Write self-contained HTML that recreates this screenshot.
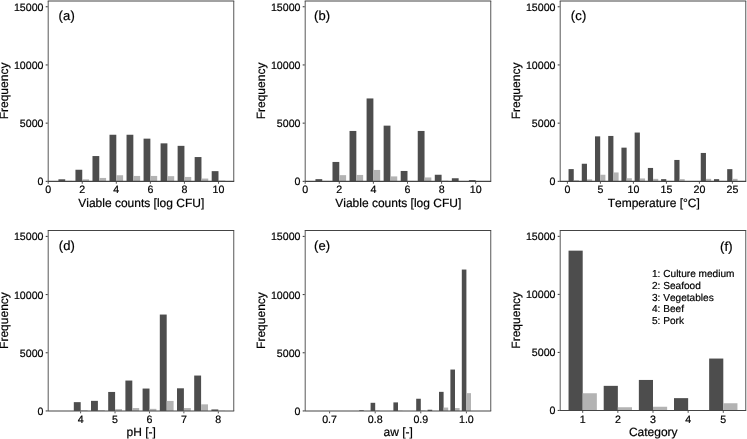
<!DOCTYPE html>
<html><head><meta charset="utf-8"><title>Histograms</title>
<style>
html,body{margin:0;padding:0;background:#fff;}
body{width:747px;height:439px;overflow:hidden;}
svg{display:block;will-change:transform;}
svg text{font-family:"Liberation Sans",sans-serif;fill:#000;stroke:#000;stroke-width:0.2px;text-rendering:geometricPrecision;font-kerning:none;}
</style></head><body>
<svg width="747" height="439" viewBox="0 0 747 439">
<rect x="0" y="0" width="747" height="439" fill="#fff"/>
<rect x="58.42" y="179.30" width="6.80" height="2.05" fill="#4d4d4d"/>
<rect x="65.22" y="180.85" width="6.80" height="0.50" fill="#b3b3b3"/>
<rect x="75.45" y="169.75" width="6.80" height="11.60" fill="#4d4d4d"/>
<rect x="82.25" y="179.35" width="6.80" height="2.00" fill="#b3b3b3"/>
<rect x="92.48" y="156.05" width="6.80" height="25.30" fill="#4d4d4d"/>
<rect x="99.28" y="177.95" width="6.80" height="3.40" fill="#b3b3b3"/>
<rect x="109.51" y="134.75" width="6.80" height="46.60" fill="#4d4d4d"/>
<rect x="116.31" y="175.25" width="6.80" height="6.10" fill="#b3b3b3"/>
<rect x="126.54" y="134.75" width="6.80" height="46.60" fill="#4d4d4d"/>
<rect x="133.34" y="175.95" width="6.80" height="5.40" fill="#b3b3b3"/>
<rect x="143.57" y="138.65" width="6.80" height="42.70" fill="#4d4d4d"/>
<rect x="150.37" y="175.95" width="6.80" height="5.40" fill="#b3b3b3"/>
<rect x="160.60" y="143.35" width="6.80" height="38.00" fill="#4d4d4d"/>
<rect x="167.40" y="176.15" width="6.80" height="5.20" fill="#b3b3b3"/>
<rect x="177.63" y="145.85" width="6.80" height="35.50" fill="#4d4d4d"/>
<rect x="184.43" y="176.95" width="6.80" height="4.40" fill="#b3b3b3"/>
<rect x="194.66" y="157.05" width="6.80" height="24.30" fill="#4d4d4d"/>
<rect x="201.46" y="178.55" width="6.80" height="2.80" fill="#b3b3b3"/>
<rect x="211.69" y="171.15" width="6.80" height="10.20" fill="#4d4d4d"/>
<rect x="218.49" y="180.55" width="6.80" height="0.80" fill="#b3b3b3"/>
<line x1="47.74" y1="1.00" x2="234.20" y2="1.00" stroke="#444" stroke-width="1.1"/>
<line x1="47.74" y1="181.35" x2="234.20" y2="181.35" stroke="#444" stroke-width="1.1"/>
<line x1="48.19" y1="1.00" x2="48.19" y2="181.35" stroke="#444" stroke-width="0.9"/>
<line x1="233.75" y1="1.00" x2="233.75" y2="181.35" stroke="#444" stroke-width="0.9"/>
<line x1="45.69" y1="6.75" x2="47.69" y2="6.75" stroke="#333" stroke-width="1.0"/>
<text x="43.49" y="10.90" font-size="10.65" text-anchor="end" >15000</text>
<line x1="45.69" y1="64.95" x2="47.69" y2="64.95" stroke="#333" stroke-width="1.0"/>
<text x="43.49" y="68.65" font-size="10.65" text-anchor="end" >10000</text>
<line x1="45.69" y1="123.15" x2="47.69" y2="123.15" stroke="#333" stroke-width="1.0"/>
<text x="43.49" y="126.85" font-size="10.65" text-anchor="end" >5000</text>
<line x1="45.69" y1="181.35" x2="47.69" y2="181.35" stroke="#333" stroke-width="1.0"/>
<text x="43.49" y="185.05" font-size="10.65" text-anchor="end" >0</text>
<line x1="48.19" y1="181.85" x2="48.19" y2="183.75" stroke="#444" stroke-width="0.9"/>
<text x="48.19" y="193.00" font-size="10.65" text-anchor="middle" >0</text>
<line x1="82.25" y1="181.85" x2="82.25" y2="183.75" stroke="#444" stroke-width="0.9"/>
<text x="82.25" y="193.00" font-size="10.65" text-anchor="middle" >2</text>
<line x1="116.31" y1="181.85" x2="116.31" y2="183.75" stroke="#444" stroke-width="0.9"/>
<text x="116.31" y="193.00" font-size="10.65" text-anchor="middle" >4</text>
<line x1="150.37" y1="181.85" x2="150.37" y2="183.75" stroke="#444" stroke-width="0.9"/>
<text x="150.37" y="193.00" font-size="10.65" text-anchor="middle" >6</text>
<line x1="184.43" y1="181.85" x2="184.43" y2="183.75" stroke="#444" stroke-width="0.9"/>
<text x="184.43" y="193.00" font-size="10.65" text-anchor="middle" >8</text>
<line x1="218.49" y1="181.85" x2="218.49" y2="183.75" stroke="#444" stroke-width="0.9"/>
<text x="218.49" y="193.00" font-size="10.65" text-anchor="middle" >10</text>
<text x="141.27" y="206.85" font-size="12.0" text-anchor="middle" >Viable counts [log CFU]</text>
<text transform="translate(8.19,90.97) rotate(-90)" font-size="12.0" text-anchor="middle">Frequency</text>
<text x="58.60" y="20.15" font-size="13.0" text-anchor="start" letter-spacing="0.15">(a)</text>
<rect x="315.44" y="179.15" width="6.80" height="2.20" fill="#4d4d4d"/>
<rect x="322.24" y="180.95" width="6.80" height="0.40" fill="#b3b3b3"/>
<rect x="332.49" y="161.95" width="6.80" height="19.40" fill="#4d4d4d"/>
<rect x="339.29" y="175.15" width="6.80" height="6.20" fill="#b3b3b3"/>
<rect x="349.54" y="130.95" width="6.80" height="50.40" fill="#4d4d4d"/>
<rect x="356.34" y="174.95" width="6.80" height="6.40" fill="#b3b3b3"/>
<rect x="366.59" y="98.45" width="6.80" height="82.90" fill="#4d4d4d"/>
<rect x="373.39" y="169.95" width="6.80" height="11.40" fill="#b3b3b3"/>
<rect x="383.64" y="125.65" width="6.80" height="55.70" fill="#4d4d4d"/>
<rect x="390.44" y="176.40" width="6.80" height="4.95" fill="#b3b3b3"/>
<rect x="400.69" y="170.95" width="6.80" height="10.40" fill="#4d4d4d"/>
<rect x="407.49" y="180.95" width="6.80" height="0.40" fill="#b3b3b3"/>
<rect x="417.74" y="130.95" width="6.80" height="50.40" fill="#4d4d4d"/>
<rect x="424.54" y="177.45" width="6.80" height="3.90" fill="#b3b3b3"/>
<rect x="434.79" y="174.75" width="6.80" height="6.60" fill="#4d4d4d"/>
<rect x="441.59" y="180.65" width="6.80" height="0.70" fill="#b3b3b3"/>
<rect x="451.84" y="178.25" width="6.80" height="3.10" fill="#4d4d4d"/>
<rect x="458.64" y="180.95" width="6.80" height="0.40" fill="#b3b3b3"/>
<rect x="468.89" y="180.15" width="6.80" height="1.20" fill="#4d4d4d"/>
<rect x="475.69" y="181.05" width="6.80" height="0.30" fill="#b3b3b3"/>
<line x1="304.74" y1="1.00" x2="491.20" y2="1.00" stroke="#444" stroke-width="1.1"/>
<line x1="304.74" y1="181.35" x2="491.20" y2="181.35" stroke="#444" stroke-width="1.1"/>
<line x1="305.19" y1="1.00" x2="305.19" y2="181.35" stroke="#444" stroke-width="0.9"/>
<line x1="490.75" y1="1.00" x2="490.75" y2="181.35" stroke="#444" stroke-width="0.9"/>
<line x1="302.69" y1="6.75" x2="304.69" y2="6.75" stroke="#333" stroke-width="1.0"/>
<text x="300.49" y="10.90" font-size="10.65" text-anchor="end" >15000</text>
<line x1="302.69" y1="64.95" x2="304.69" y2="64.95" stroke="#333" stroke-width="1.0"/>
<text x="300.49" y="68.65" font-size="10.65" text-anchor="end" >10000</text>
<line x1="302.69" y1="123.15" x2="304.69" y2="123.15" stroke="#333" stroke-width="1.0"/>
<text x="300.49" y="126.85" font-size="10.65" text-anchor="end" >5000</text>
<line x1="302.69" y1="181.35" x2="304.69" y2="181.35" stroke="#333" stroke-width="1.0"/>
<text x="300.49" y="185.05" font-size="10.65" text-anchor="end" >0</text>
<line x1="305.19" y1="181.85" x2="305.19" y2="183.75" stroke="#444" stroke-width="0.9"/>
<text x="305.19" y="193.00" font-size="10.65" text-anchor="middle" >0</text>
<line x1="339.29" y1="181.85" x2="339.29" y2="183.75" stroke="#444" stroke-width="0.9"/>
<text x="339.29" y="193.00" font-size="10.65" text-anchor="middle" >2</text>
<line x1="373.39" y1="181.85" x2="373.39" y2="183.75" stroke="#444" stroke-width="0.9"/>
<text x="373.39" y="193.00" font-size="10.65" text-anchor="middle" >4</text>
<line x1="407.49" y1="181.85" x2="407.49" y2="183.75" stroke="#444" stroke-width="0.9"/>
<text x="407.49" y="193.00" font-size="10.65" text-anchor="middle" >6</text>
<line x1="441.59" y1="181.85" x2="441.59" y2="183.75" stroke="#444" stroke-width="0.9"/>
<text x="441.59" y="193.00" font-size="10.65" text-anchor="middle" >8</text>
<line x1="475.69" y1="181.85" x2="475.69" y2="183.75" stroke="#444" stroke-width="0.9"/>
<text x="475.69" y="193.00" font-size="10.65" text-anchor="middle" >10</text>
<text x="398.27" y="206.85" font-size="12.0" text-anchor="middle" >Viable counts [log CFU]</text>
<text transform="translate(265.19,90.97) rotate(-90)" font-size="12.0" text-anchor="middle">Frequency</text>
<text x="314.00" y="20.15" font-size="13.0" text-anchor="start" letter-spacing="0.15">(b)</text>
<rect x="568.55" y="169.10" width="5.20" height="12.25" fill="#4d4d4d"/>
<rect x="573.75" y="180.25" width="5.20" height="1.10" fill="#b3b3b3"/>
<rect x="581.77" y="163.75" width="5.20" height="17.60" fill="#4d4d4d"/>
<rect x="586.97" y="179.35" width="5.20" height="2.00" fill="#b3b3b3"/>
<rect x="594.99" y="136.35" width="5.20" height="45.00" fill="#4d4d4d"/>
<rect x="600.19" y="174.75" width="5.20" height="6.60" fill="#b3b3b3"/>
<rect x="608.21" y="135.95" width="5.20" height="45.40" fill="#4d4d4d"/>
<rect x="613.41" y="172.45" width="5.20" height="8.90" fill="#b3b3b3"/>
<rect x="621.43" y="147.65" width="5.20" height="33.70" fill="#4d4d4d"/>
<rect x="626.63" y="178.25" width="5.20" height="3.10" fill="#b3b3b3"/>
<rect x="634.65" y="132.55" width="5.20" height="48.80" fill="#4d4d4d"/>
<rect x="639.85" y="178.45" width="5.20" height="2.90" fill="#b3b3b3"/>
<rect x="647.87" y="167.95" width="5.20" height="13.40" fill="#4d4d4d"/>
<rect x="653.07" y="178.85" width="5.20" height="2.50" fill="#b3b3b3"/>
<rect x="661.09" y="179.15" width="5.20" height="2.20" fill="#4d4d4d"/>
<rect x="666.29" y="180.95" width="5.20" height="0.40" fill="#b3b3b3"/>
<rect x="674.31" y="159.95" width="5.20" height="21.40" fill="#4d4d4d"/>
<rect x="679.51" y="179.15" width="5.20" height="2.20" fill="#b3b3b3"/>
<rect x="700.75" y="152.95" width="5.20" height="28.40" fill="#4d4d4d"/>
<rect x="705.95" y="178.85" width="5.20" height="2.50" fill="#b3b3b3"/>
<rect x="713.97" y="179.15" width="5.20" height="2.20" fill="#4d4d4d"/>
<rect x="719.17" y="180.95" width="5.20" height="0.40" fill="#b3b3b3"/>
<rect x="727.19" y="169.15" width="5.20" height="12.20" fill="#4d4d4d"/>
<rect x="732.39" y="178.85" width="5.20" height="2.50" fill="#b3b3b3"/>
<line x1="559.74" y1="1.00" x2="746.22" y2="1.00" stroke="#444" stroke-width="1.1"/>
<line x1="559.74" y1="181.35" x2="746.22" y2="181.35" stroke="#444" stroke-width="1.1"/>
<line x1="560.19" y1="1.00" x2="560.19" y2="181.35" stroke="#444" stroke-width="0.9"/>
<line x1="745.77" y1="1.00" x2="745.77" y2="181.35" stroke="#444" stroke-width="0.9"/>
<line x1="557.69" y1="6.75" x2="559.69" y2="6.75" stroke="#333" stroke-width="1.0"/>
<text x="555.49" y="10.90" font-size="10.65" text-anchor="end" >15000</text>
<line x1="557.69" y1="64.95" x2="559.69" y2="64.95" stroke="#333" stroke-width="1.0"/>
<text x="555.49" y="68.65" font-size="10.65" text-anchor="end" >10000</text>
<line x1="557.69" y1="123.15" x2="559.69" y2="123.15" stroke="#333" stroke-width="1.0"/>
<text x="555.49" y="126.85" font-size="10.65" text-anchor="end" >5000</text>
<line x1="557.69" y1="181.35" x2="559.69" y2="181.35" stroke="#333" stroke-width="1.0"/>
<text x="555.49" y="185.05" font-size="10.65" text-anchor="end" >0</text>
<line x1="567.40" y1="181.85" x2="567.40" y2="183.75" stroke="#444" stroke-width="0.9"/>
<text x="567.40" y="193.00" font-size="10.65" text-anchor="middle" >0</text>
<line x1="600.40" y1="181.85" x2="600.40" y2="183.75" stroke="#444" stroke-width="0.9"/>
<text x="600.40" y="193.00" font-size="10.65" text-anchor="middle" >5</text>
<line x1="633.40" y1="181.85" x2="633.40" y2="183.75" stroke="#444" stroke-width="0.9"/>
<text x="633.40" y="193.00" font-size="10.65" text-anchor="middle" >10</text>
<line x1="666.40" y1="181.85" x2="666.40" y2="183.75" stroke="#444" stroke-width="0.9"/>
<text x="666.40" y="193.00" font-size="10.65" text-anchor="middle" >15</text>
<line x1="699.40" y1="181.85" x2="699.40" y2="183.75" stroke="#444" stroke-width="0.9"/>
<text x="699.40" y="193.00" font-size="10.65" text-anchor="middle" >20</text>
<line x1="732.40" y1="181.85" x2="732.40" y2="183.75" stroke="#444" stroke-width="0.9"/>
<text x="732.40" y="193.00" font-size="10.65" text-anchor="middle" >25</text>
<text x="653.78" y="206.85" font-size="12.0" text-anchor="middle" >Temperature [°C]</text>
<text transform="translate(520.19,90.97) rotate(-90)" font-size="12.0" text-anchor="middle">Frequency</text>
<text x="570.80" y="20.15" font-size="13.0" text-anchor="start" letter-spacing="0.15">(c)</text>
<rect x="73.80" y="402.15" width="6.90" height="8.80" fill="#4d4d4d"/>
<rect x="80.70" y="410.25" width="6.90" height="0.70" fill="#b3b3b3"/>
<rect x="91.00" y="400.85" width="6.90" height="10.10" fill="#4d4d4d"/>
<rect x="97.90" y="410.15" width="6.90" height="0.80" fill="#b3b3b3"/>
<rect x="108.20" y="391.95" width="6.90" height="19.00" fill="#4d4d4d"/>
<rect x="115.10" y="409.15" width="6.90" height="1.80" fill="#b3b3b3"/>
<rect x="125.40" y="380.55" width="6.90" height="30.40" fill="#4d4d4d"/>
<rect x="132.30" y="408.05" width="6.90" height="2.90" fill="#b3b3b3"/>
<rect x="142.60" y="388.55" width="6.90" height="22.40" fill="#4d4d4d"/>
<rect x="149.50" y="408.85" width="6.90" height="2.10" fill="#b3b3b3"/>
<rect x="159.80" y="314.55" width="6.90" height="96.40" fill="#4d4d4d"/>
<rect x="166.70" y="400.95" width="6.90" height="10.00" fill="#b3b3b3"/>
<rect x="177.00" y="388.30" width="6.90" height="22.65" fill="#4d4d4d"/>
<rect x="183.90" y="408.05" width="6.90" height="2.90" fill="#b3b3b3"/>
<rect x="194.20" y="375.55" width="6.90" height="35.40" fill="#4d4d4d"/>
<rect x="201.10" y="404.35" width="6.90" height="6.60" fill="#b3b3b3"/>
<rect x="211.40" y="409.45" width="6.90" height="1.50" fill="#4d4d4d"/>
<rect x="218.30" y="410.70" width="6.90" height="0.25" fill="#b3b3b3"/>
<line x1="47.74" y1="230.55" x2="234.20" y2="230.55" stroke="#444" stroke-width="1.1"/>
<line x1="47.74" y1="410.95" x2="234.20" y2="410.95" stroke="#444" stroke-width="1.1"/>
<line x1="48.19" y1="230.55" x2="48.19" y2="410.95" stroke="#444" stroke-width="0.9"/>
<line x1="233.75" y1="230.55" x2="233.75" y2="410.95" stroke="#444" stroke-width="0.9"/>
<line x1="45.69" y1="236.40" x2="47.69" y2="236.40" stroke="#333" stroke-width="1.0"/>
<text x="43.49" y="240.40" font-size="10.65" text-anchor="end" >15000</text>
<line x1="45.69" y1="294.58" x2="47.69" y2="294.58" stroke="#333" stroke-width="1.0"/>
<text x="43.49" y="298.58" font-size="10.65" text-anchor="end" >10000</text>
<line x1="45.69" y1="352.77" x2="47.69" y2="352.77" stroke="#333" stroke-width="1.0"/>
<text x="43.49" y="356.77" font-size="10.65" text-anchor="end" >5000</text>
<line x1="45.69" y1="410.95" x2="47.69" y2="410.95" stroke="#333" stroke-width="1.0"/>
<text x="43.49" y="414.95" font-size="10.65" text-anchor="end" >0</text>
<line x1="80.60" y1="411.45" x2="80.60" y2="413.35" stroke="#444" stroke-width="0.9"/>
<text x="80.60" y="423.15" font-size="10.65" text-anchor="middle" >4</text>
<line x1="115.03" y1="411.45" x2="115.03" y2="413.35" stroke="#444" stroke-width="0.9"/>
<text x="115.03" y="423.15" font-size="10.65" text-anchor="middle" >5</text>
<line x1="149.46" y1="411.45" x2="149.46" y2="413.35" stroke="#444" stroke-width="0.9"/>
<text x="149.46" y="423.15" font-size="10.65" text-anchor="middle" >6</text>
<line x1="183.89" y1="411.45" x2="183.89" y2="413.35" stroke="#444" stroke-width="0.9"/>
<text x="183.89" y="423.15" font-size="10.65" text-anchor="middle" >7</text>
<line x1="218.32" y1="411.45" x2="218.32" y2="413.35" stroke="#444" stroke-width="0.9"/>
<text x="218.32" y="423.15" font-size="10.65" text-anchor="middle" >8</text>
<text x="141.27" y="436.25" font-size="12.0" text-anchor="middle" >pH [-]</text>
<text transform="translate(8.19,320.55) rotate(-90)" font-size="12.0" text-anchor="middle">Frequency</text>
<text x="58.70" y="249.80" font-size="13.0" text-anchor="start" letter-spacing="0.15">(d)</text>
<rect x="461.80" y="269.55" width="4.60" height="141.40" fill="#4d4d4d"/>
<rect x="466.40" y="393.15" width="4.60" height="17.80" fill="#b3b3b3"/>
<rect x="450.40" y="369.55" width="4.60" height="41.40" fill="#4d4d4d"/>
<rect x="455.00" y="408.05" width="4.60" height="2.90" fill="#b3b3b3"/>
<rect x="439.00" y="391.85" width="4.60" height="19.10" fill="#4d4d4d"/>
<rect x="443.60" y="407.55" width="4.60" height="3.40" fill="#b3b3b3"/>
<rect x="427.60" y="409.75" width="4.60" height="1.20" fill="#4d4d4d"/>
<rect x="416.20" y="398.75" width="4.60" height="12.20" fill="#4d4d4d"/>
<rect x="420.80" y="410.45" width="4.60" height="0.50" fill="#b3b3b3"/>
<rect x="393.40" y="402.40" width="4.60" height="8.55" fill="#4d4d4d"/>
<rect x="398.00" y="410.65" width="4.60" height="0.30" fill="#b3b3b3"/>
<rect x="370.60" y="402.80" width="4.60" height="8.15" fill="#4d4d4d"/>
<rect x="375.20" y="410.45" width="4.60" height="0.50" fill="#b3b3b3"/>
<rect x="359.20" y="410.25" width="4.60" height="0.70" fill="#4d4d4d"/>
<line x1="304.74" y1="230.55" x2="491.20" y2="230.55" stroke="#444" stroke-width="1.1"/>
<line x1="304.74" y1="410.95" x2="491.20" y2="410.95" stroke="#444" stroke-width="1.1"/>
<line x1="305.19" y1="230.55" x2="305.19" y2="410.95" stroke="#444" stroke-width="0.9"/>
<line x1="490.75" y1="230.55" x2="490.75" y2="410.95" stroke="#444" stroke-width="0.9"/>
<line x1="302.69" y1="236.40" x2="304.69" y2="236.40" stroke="#333" stroke-width="1.0"/>
<text x="300.49" y="240.40" font-size="10.65" text-anchor="end" >15000</text>
<line x1="302.69" y1="294.58" x2="304.69" y2="294.58" stroke="#333" stroke-width="1.0"/>
<text x="300.49" y="298.58" font-size="10.65" text-anchor="end" >10000</text>
<line x1="302.69" y1="352.77" x2="304.69" y2="352.77" stroke="#333" stroke-width="1.0"/>
<text x="300.49" y="356.77" font-size="10.65" text-anchor="end" >5000</text>
<line x1="302.69" y1="410.95" x2="304.69" y2="410.95" stroke="#333" stroke-width="1.0"/>
<text x="300.49" y="414.95" font-size="10.65" text-anchor="end" >0</text>
<line x1="329.60" y1="411.45" x2="329.60" y2="413.35" stroke="#444" stroke-width="0.9"/>
<text x="329.60" y="423.15" font-size="10.65" text-anchor="middle" >0.7</text>
<line x1="375.20" y1="411.45" x2="375.20" y2="413.35" stroke="#444" stroke-width="0.9"/>
<text x="375.20" y="423.15" font-size="10.65" text-anchor="middle" >0.8</text>
<line x1="420.80" y1="411.45" x2="420.80" y2="413.35" stroke="#444" stroke-width="0.9"/>
<text x="420.80" y="423.15" font-size="10.65" text-anchor="middle" >0.9</text>
<line x1="466.40" y1="411.45" x2="466.40" y2="413.35" stroke="#444" stroke-width="0.9"/>
<text x="466.40" y="423.15" font-size="10.65" text-anchor="middle" >1.0</text>
<text x="398.27" y="436.25" font-size="12.0" text-anchor="middle" >aw [-]</text>
<text transform="translate(265.19,320.55) rotate(-90)" font-size="12.0" text-anchor="middle">Frequency</text>
<text x="314.00" y="249.80" font-size="13.0" text-anchor="start" letter-spacing="0.15">(e)</text>
<rect x="568.55" y="250.65" width="14.15" height="159.80" fill="#4d4d4d"/>
<rect x="582.70" y="393.25" width="14.15" height="17.20" fill="#b3b3b3"/>
<rect x="603.70" y="385.85" width="14.15" height="24.60" fill="#4d4d4d"/>
<rect x="617.85" y="407.25" width="14.15" height="3.20" fill="#b3b3b3"/>
<rect x="638.85" y="379.95" width="14.15" height="30.50" fill="#4d4d4d"/>
<rect x="653.00" y="406.75" width="14.15" height="3.70" fill="#b3b3b3"/>
<rect x="674.00" y="398.15" width="14.15" height="12.30" fill="#4d4d4d"/>
<rect x="688.15" y="410.20" width="14.15" height="0.25" fill="#b3b3b3"/>
<rect x="709.15" y="358.55" width="14.15" height="51.90" fill="#4d4d4d"/>
<rect x="723.30" y="403.25" width="14.15" height="7.20" fill="#b3b3b3"/>
<line x1="559.74" y1="230.55" x2="746.22" y2="230.55" stroke="#444" stroke-width="1.1"/>
<line x1="559.74" y1="410.45" x2="746.22" y2="410.45" stroke="#444" stroke-width="1.1"/>
<line x1="560.19" y1="230.55" x2="560.19" y2="410.45" stroke="#444" stroke-width="0.9"/>
<line x1="745.77" y1="230.55" x2="745.77" y2="410.45" stroke="#444" stroke-width="0.9"/>
<line x1="557.69" y1="236.35" x2="559.69" y2="236.35" stroke="#333" stroke-width="1.0"/>
<text x="555.49" y="240.35" font-size="10.65" text-anchor="end" >15000</text>
<line x1="557.69" y1="294.38" x2="559.69" y2="294.38" stroke="#333" stroke-width="1.0"/>
<text x="555.49" y="298.38" font-size="10.65" text-anchor="end" >10000</text>
<line x1="557.69" y1="352.42" x2="559.69" y2="352.42" stroke="#333" stroke-width="1.0"/>
<text x="555.49" y="356.42" font-size="10.65" text-anchor="end" >5000</text>
<line x1="557.69" y1="410.45" x2="559.69" y2="410.45" stroke="#333" stroke-width="1.0"/>
<text x="555.49" y="414.45" font-size="10.65" text-anchor="end" >0</text>
<line x1="582.70" y1="410.95" x2="582.70" y2="412.85" stroke="#444" stroke-width="0.9"/>
<text x="582.70" y="422.75" font-size="10.65" text-anchor="middle" >1</text>
<line x1="617.85" y1="410.95" x2="617.85" y2="412.85" stroke="#444" stroke-width="0.9"/>
<text x="617.85" y="422.75" font-size="10.65" text-anchor="middle" >2</text>
<line x1="653.00" y1="410.95" x2="653.00" y2="412.85" stroke="#444" stroke-width="0.9"/>
<text x="653.00" y="422.75" font-size="10.65" text-anchor="middle" >3</text>
<line x1="688.15" y1="410.95" x2="688.15" y2="412.85" stroke="#444" stroke-width="0.9"/>
<text x="688.15" y="422.75" font-size="10.65" text-anchor="middle" >4</text>
<line x1="723.30" y1="410.95" x2="723.30" y2="412.85" stroke="#444" stroke-width="0.9"/>
<text x="723.30" y="422.75" font-size="10.65" text-anchor="middle" >5</text>
<text x="653.28" y="435.85" font-size="12.0" text-anchor="middle" >Category</text>
<text transform="translate(520.19,320.30) rotate(-90)" font-size="12.0" text-anchor="middle">Frequency</text>
<text x="720.00" y="251.40" font-size="13.0" text-anchor="start" letter-spacing="0.15">(f)</text>
<text x="652.00" y="277.40" font-size="10.1" text-anchor="start" >1: Culture medium</text>
<text x="652.00" y="289.03" font-size="10.1" text-anchor="start" >2: Seafood</text>
<text x="652.00" y="300.66" font-size="10.1" text-anchor="start" >3: Vegetables</text>
<text x="652.00" y="312.29" font-size="10.1" text-anchor="start" >4: Beef</text>
<text x="652.00" y="323.92" font-size="10.1" text-anchor="start" >5: Pork</text>
</svg>
</body></html>
